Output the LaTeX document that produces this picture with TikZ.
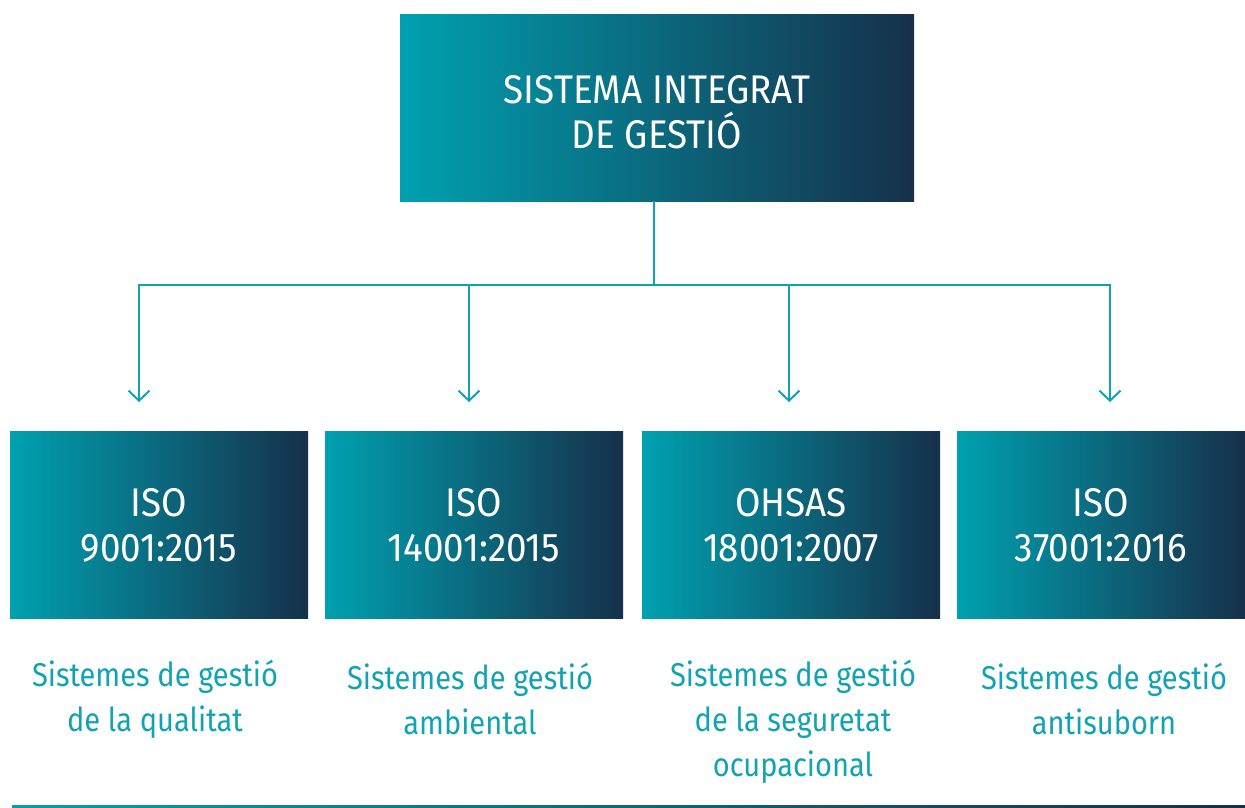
\documentclass[tikz,border=0pt]{standalone}
\usepackage{fontspec}
\setmainfont{Fira Sans}[FakeStretch=0.9]
\newfontfamily\boxfont{Fira Sans}[FakeStretch=0.92]
\newfontfamily\lblfont{Fira Sans}[FakeStretch=0.88]
\usetikzlibrary{arrows.meta}
\definecolor{teal1}{HTML}{00A1B0}
\definecolor{navy1}{HTML}{16304A}
\definecolor{linec}{HTML}{12A3B3}
\begin{document}
\begin{tikzpicture}[x=1pt,y=-1pt,
  gbox/.style={rectangle, minimum width=298pt, minimum height=187pt, left color=teal1, right color=navy1, text=white, align=center, inner sep=0pt, font=\boxfont\fontsize{40}{45}\selectfont},
  lbl/.style={text=linec, align=center, inner sep=0pt, font=\lblfont\fontsize{33}{45}\selectfont},
  conn/.style={draw=linec, line width=2pt},
  arr/.style={conn, -{Straight Barb[length=10pt,width=21pt,line width=2pt]}}]
\useasboundingbox (0,0) rectangle (1245,807);

\node[gbox, minimum width=514pt] (top) at (657,107.5) {\rule{0pt}{37pt}SISTEMA INTEGRAT\\DE GESTIÓ};

\node[gbox] (b1) at (159,525) {ISO\\9001:2015};
\node[gbox] (b2) at (474,525) {ISO\\14001:2015};
\node[gbox] (b3) at (791,525) {OHSAS\\18001:2007};
\node[gbox, minimum width=288pt] (b4) at (1101,525) {ISO\\37001:2016};

\node[lbl] (l1) at (155,699) {Sistemes de gestió\\de la qualitat};
\node[lbl] (l2) at (470,699) {Sistemes de gestió\\ambiental};
\node[lbl] (l3) at (793,722) {Sistemes de gestió\\de la seguretat\\ocupacional};
\node[lbl] (l4) at (1104,699) {Sistemes de gestió\\antisuborn};

\coordinate (j) at (654,285);
\coordinate (c2) at (469,285);
\coordinate (c3) at (789,285);
\coordinate (t1) at (139,402);
\coordinate (t2) at (469,402);
\coordinate (t3) at (789,402);
\coordinate (t4) at (1110,402);

\draw[conn] (j |- top.south) -- (j);
\draw[arr] (j) -| (t1);
\draw[arr] (j) -| (t4);
\draw[arr] (c2) -- (t2);
\draw[arr] (c3) -- (t3);

\shade[left color=teal1, right color=navy1] (12,805) rectangle (1245,807);
\end{tikzpicture}
\end{document}
